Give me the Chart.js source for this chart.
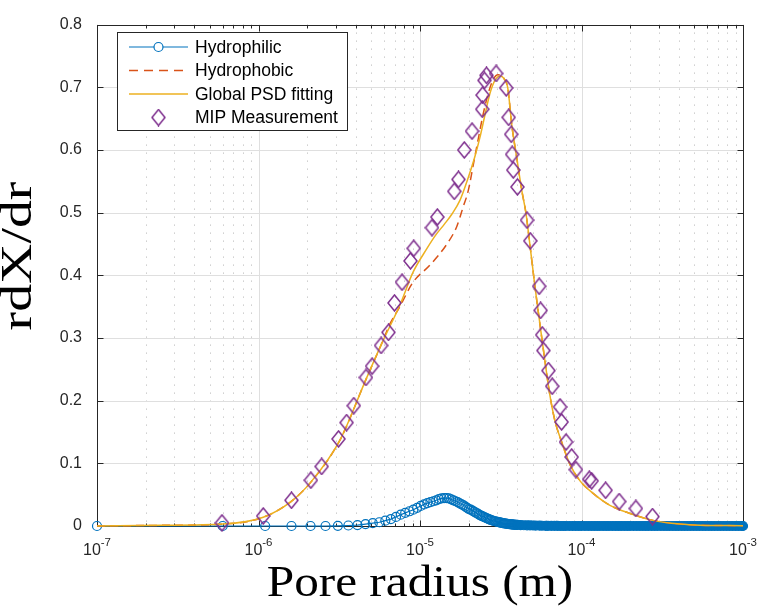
<!DOCTYPE html>
<html>
<head>
<meta charset="utf-8">
<title>Pore size distribution</title>
<script src="https://cdn.jsdelivr.net/npm/chart.js@4.4.0/dist/chart.umd.min.js"></script>
<style>
  html, body { margin: 0; padding: 0; background: #fff; }
  #wrap { width: 763px; height: 611px; }
</style>
</head>
<body>
<div id="wrap"><canvas id="psdChart" width="763" height="611"></canvas></div>
<script>
// Pore radius values are in micrometres (converted to m when the datasets are built)

// Hydrophilic (blue circles)
const hydrophilicR = [0.1, 0.6, 1.1, 1.6, 2.1, 2.6, 3.1, 3.6, 4.1, 4.6, 5.1, 5.6, 6.1, 6.6, 7.1, 7.6, 8.1, 8.6, 9.1, 9.6,
    10.1, 10.6, 11.1, 11.6, 12.1, 12.6, 13.1, 13.6, 14.1, 14.6, 15.1, 15.6, 16.1, 16.6, 17.1, 17.6, 18.1, 18.6, 19.1, 19.6,
    20.1, 20.6, 21.1, 21.6, 22.1, 22.6, 23.1, 23.6, 24.1, 24.6, 25.1, 25.6, 26.1, 26.6, 27.1, 27.6, 28.1, 28.6, 29.1, 29.6,
    30.1, 30.6, 31.1, 31.6, 32.1, 32.6, 33.1, 33.6, 34.1, 34.6, 35.1, 35.6, 36.1, 36.6, 37.1, 37.6, 38.1, 38.6, 39.1, 39.6, 40.1];
const hydrophilicY = [0, 0, 0, 0, 0, 0, 0.0003, 0.0008, 0.0015, 0.003, 0.0045, 0.006, 0.0085, 0.011, 0.0145, 0.018, 0.021, 0.0235, 0.026, 0.029,
    0.032, 0.0345, 0.0365, 0.038, 0.0395, 0.041, 0.043, 0.044, 0.0445, 0.0445, 0.044, 0.0425, 0.041, 0.0395, 0.038, 0.036, 0.0345, 0.033, 0.031, 0.029,
    0.027, 0.026, 0.0245, 0.023, 0.0215, 0.020, 0.0185, 0.017, 0.016, 0.015, 0.014, 0.013, 0.012, 0.011, 0.0102, 0.0095, 0.0088, 0.008, 0.0076, 0.0072,
    0.0067, 0.0062, 0.0058, 0.0054, 0.005, 0.0046, 0.0043, 0.004, 0.0037, 0.0035, 0.0032, 0.003, 0.0028, 0.0027, 0.0025, 0.0023, 0.0021, 0.002, 0.0019, 0.0018, 0.0017];
// dense tail of the hydrophilic curve
const hydrophilicTailR = [42, 44, 46, 48, 50, 52, 55, 57, 60, 62, 65, 68, 71, 74, 77, 80, 84, 88, 92, 96,
    100, 105, 110, 115, 120, 125, 130, 136, 142, 148, 155, 162, 169, 176, 184, 192, 200, 210, 220, 230,
    240, 250, 260, 272, 284, 296, 310, 324, 338, 352, 368, 384, 400, 418, 436, 455, 475, 496, 518, 540,
    564, 588, 614, 640, 668, 698, 728, 760, 794, 828, 864, 902, 940, 980, 1000];
const hydrophilicTailY = [0.0015, 0.0012, 0.001, 0.0009, 0.0008, 0.0007, 0.0005, 0.0004, 0.0003, 0.0003, 0.0002, 0.0002, 0.0001, 0, 0, 0, 0, 0, 0, 0,
    0, 0, 0, 0, 0, 0, 0, 0, 0, 0, 0, 0, 0, 0, 0, 0, 0, 0, 0, 0,
    0, 0, 0, 0, 0, 0, 0, 0, 0, 0, 0, 0, 0, 0, 0, 0, 0, 0, 0, 0,
    0, 0, 0, 0, 0, 0, 0, 0, 0, 0, 0, 0, 0, 0, 0];

// Hydrophobic (dashed)
const hydrophobicR = [0.1, 0.25, 0.6, 1.07, 1.59, 2.11, 3.2, 4.63, 5.79, 6.5, 7.5, 9.06, 11.5, 14.6, 16.9, 18.5, 19.9, 21.4, 23.0, 24.7,
    26.5, 28.4, 30.4, 33.1, 35.0, 37.0, 39.7, 42.7, 45.3, 47.5, 51.5, 56.7, 63.8, 68.6, 75.4, 84.9, 97.9, 118, 150, 200, 277, 407, 542, 1000];
const hydrophobicY = [0, 0.001, 0.003, 0.014, 0.039, 0.070, 0.1375, 0.234, 0.291, 0.322, 0.350, 0.389, 0.416, 0.449, 0.478, 0.509, 0.535, 0.577, 0.619, 0.659,
    0.691, 0.7125, 0.720, 0.714, 0.698, 0.640, 0.588, 0.535, 0.499, 0.457, 0.382, 0.301, 0.208, 0.167, 0.134, 0.098, 0.072, 0.052, 0.033, 0.020, 0.009, 0.003, 0.0012, 0.0005];

// Global PSD fitting (solid yellow)
const fitR = [0.1, 0.25, 0.6, 1.07, 1.59, 2.11, 3.2, 4.63, 5.79, 7.52, 9.06, 11.0, 12.5, 14.2, 15.7, 17.7, 19.6, 21.9, 23.5, 25.3,
    27.1, 29.1, 31.3, 33.1, 35.0, 37.0, 39.7, 42.7, 45.3, 47.5, 51.5, 56.7, 63.8, 68.6, 75.4, 84.9, 97.9, 118, 150, 200, 277, 407, 542, 1000];
const fitY = [0, 0.001, 0.003, 0.014, 0.039, 0.070, 0.1375, 0.234, 0.291, 0.353, 0.405, 0.442, 0.464, 0.482, 0.497, 0.520, 0.551, 0.590, 0.620, 0.657,
    0.690, 0.711, 0.718, 0.714, 0.698, 0.640, 0.588, 0.535, 0.499, 0.457, 0.382, 0.301, 0.208, 0.167, 0.134, 0.098, 0.072, 0.052, 0.033, 0.020, 0.009, 0.003, 0.0012, 0.0005];

// MIP measurement (purple diamonds)
const mipR = [0.594, 1.07, 1.60, 2.11, 2.46, 3.13, 3.51, 3.89, 4.63, 5.05, 5.74, 6.38, 6.95, 7.74, 8.73, 9.14, 11.86, 12.8, 16.3, 17.3,
    18.8, 21.0, 24.3, 24.4, 25.1, 25.8, 29.6, 34.2, 35.4, 36.7, 37.2, 37.8, 40.1, 46.0, 48.2, 54.7, 55.8, 57.1, 58.1, 62.4,
    65.9, 73.6, 75.3, 80.2, 86.9, 92.3, 111.7, 115.6, 141, 171, 217, 275];
const mipY = [0.005, 0.016, 0.041, 0.073, 0.095, 0.139, 0.165, 0.192, 0.237, 0.255, 0.288, 0.309, 0.356, 0.389, 0.423, 0.443, 0.476, 0.493, 0.534, 0.553,
    0.600, 0.630, 0.665, 0.6875, 0.711, 0.719, 0.722, 0.699, 0.652, 0.625, 0.593, 0.568, 0.541, 0.488, 0.455, 0.3825, 0.344, 0.305, 0.280, 0.248,
    0.223, 0.190, 0.166, 0.134, 0.110, 0.090, 0.0745, 0.072, 0.057, 0.039, 0.028, 0.015];

const seriesNames = ["Hydrophilic", "Hydrophobic", "Global PSD fitting", "MIP Measurement"];
const yTicks = [0, 0.1, 0.2, 0.3, 0.4, 0.5, 0.6, 0.7, 0.8];
const xDecades = [-7, -6, -5, -4, -3];
const minorSteps = [2, 3, 4, 5, 6, 7, 8, 9];

const BLUE = "#0072BD", ORANGE = "#D95319", YELLOW = "#EDB120", PURPLE = "#7E2F8E";
const AXIS = "#262626";

function toPoints(r, v) {
    return r.map((ri, i) => ({ x: ri * 1e-6, y: v[i] }));
}

// diamond marker, a bit taller than wide like the original
function makeDiamond() {
    const c = document.createElement("canvas");
    c.width = 15; c.height = 18;
    const g = c.getContext("2d");
    g.strokeStyle = PURPLE;
    g.lineWidth = 1.5;
    g.beginPath();
    g.moveTo(7.5, 1); g.lineTo(14, 9); g.lineTo(7.5, 17); g.lineTo(1, 9);
    g.closePath();
    g.stroke();
    return c;
}
const diamond = makeDiamond();

// serif label, widened a little to match the LaTeX font
function wideText(ctx, text, x, y, sx) {
    ctx.save();
    ctx.translate(x, y);
    ctx.scale(sx, 1);
    ctx.fillText(text, 0, 0);
    ctx.restore();
}

// grid, box, ticks (drawn under the data)
const axesPlugin = {
    id: "matlabAxes",
    beforeDatasetsDraw(chart) {
        const { ctx, chartArea: a, scales: { x, y } } = chart;
        ctx.save();
        ctx.lineWidth = 1;

        // minor dotted grid
        ctx.strokeStyle = "#b4b4b4";
        ctx.setLineDash([1, 7]);
        xDecades.slice(0, -1).forEach((d) => {
            minorSteps.forEach((m) => {
                const px = Math.round(x.getPixelForValue(m * Math.pow(10, d))) + 0.5;
                ctx.beginPath(); ctx.moveTo(px, a.top); ctx.lineTo(px, a.bottom); ctx.stroke();
            });
        });
        ctx.setLineDash([]);

        // major grid
        ctx.strokeStyle = "#dfdfdf";
        xDecades.forEach((d) => {
            const px = Math.round(x.getPixelForValue(Math.pow(10, d))) + 0.5;
            ctx.beginPath(); ctx.moveTo(px, a.top); ctx.lineTo(px, a.bottom); ctx.stroke();
        });
        yTicks.forEach((v) => {
            const py = Math.round(y.getPixelForValue(v)) + 0.5;
            ctx.beginPath(); ctx.moveTo(a.left, py); ctx.lineTo(a.right, py); ctx.stroke();
        });

        // box
        ctx.strokeStyle = AXIS;
        const l = Math.round(a.left) + 0.5, r = Math.round(a.right) + 0.5;
        const t = Math.round(a.top) + 0.5, b = Math.round(a.bottom) + 0.5;
        ctx.strokeRect(l, t, r - l, b - t);

        // tick marks, pointing inwards
        ctx.beginPath();
        yTicks.forEach((v) => {
            const py = Math.round(y.getPixelForValue(v)) + 0.5;
            ctx.moveTo(l, py); ctx.lineTo(l + 6, py);
            ctx.moveTo(r, py); ctx.lineTo(r - 6, py);
        });
        xDecades.forEach((d) => {
            const px = Math.round(x.getPixelForValue(Math.pow(10, d))) + 0.5;
            ctx.moveTo(px, b); ctx.lineTo(px, b - 6);
            ctx.moveTo(px, t); ctx.lineTo(px, t + 6);
        });
        xDecades.slice(0, -1).forEach((d) => {
            minorSteps.forEach((m) => {
                const px = Math.round(x.getPixelForValue(m * Math.pow(10, d))) + 0.5;
                ctx.moveTo(px, b); ctx.lineTo(px, b - 3);
                ctx.moveTo(px, t); ctx.lineTo(px, t + 3);
            });
        });
        ctx.stroke();
        ctx.restore();
    },
    afterDraw(chart) {
        const { ctx, chartArea: a, scales: { x } } = chart;
        ctx.save();
        ctx.fillStyle = AXIS;

        // x tick labels 10^n
        ctx.textBaseline = "alphabetic";
        ctx.textAlign = "left";
        xDecades.forEach((d) => {
            const px = x.getPixelForValue(Math.pow(10, d));
            ctx.font = '16px "Liberation Sans"';
            const w1 = ctx.measureText("10").width;
            ctx.font = '11.5px "Liberation Sans"';
            const exp = "-" + Math.abs(d);
            const w2 = ctx.measureText(exp).width;
            const start = px - (w1 + w2) / 2;
            ctx.font = '16px "Liberation Sans"';
            ctx.fillText("10", start, 555);
            ctx.font = '11.5px "Liberation Sans"';
            ctx.fillText(exp, start + w1, 546);
        });

        // axis titles
        ctx.fillStyle = "#000";
        ctx.textAlign = "center";
        ctx.font = '44px "Liberation Serif"';
        wideText(ctx, "Pore radius (m)", (a.left + a.right) / 2, 596, 1.12);
        ctx.save();
        ctx.translate(31, 256);
        ctx.rotate(-Math.PI / 2);
        ctx.font = '45px "Liberation Serif"';
        wideText(ctx, "rdX/dr", 0, 0, 1.24);
        ctx.restore();

        // legend box
        const box = { x: 117.5, y: 32.5, w: 230, h: 98 };
        ctx.fillStyle = "#fff";
        ctx.fillRect(box.x, box.y, box.w, box.h);
        ctx.strokeStyle = AXIS;
        ctx.lineWidth = 1;
        ctx.strokeRect(box.x, box.y, box.w, box.h);

        const rows = [47, 70.5, 94, 117.5];
        const x0 = 129, x1 = 188, xm = 158.5;
        // hydrophilic: line + circle
        ctx.strokeStyle = BLUE; ctx.lineWidth = 1.2;
        ctx.beginPath(); ctx.moveTo(x0, rows[0]); ctx.lineTo(x1, rows[0]); ctx.stroke();
        ctx.fillStyle = "#fff";
        ctx.lineWidth = 1.2;
        ctx.beginPath(); ctx.arc(xm, rows[0], 4.5, 0, Math.PI * 2); ctx.fill(); ctx.stroke();
        // hydrophobic: dashed
        ctx.strokeStyle = ORANGE; ctx.lineWidth = 1.5; ctx.setLineDash([9, 6]);
        ctx.beginPath(); ctx.moveTo(x0, rows[1]); ctx.lineTo(x1, rows[1]); ctx.stroke();
        ctx.setLineDash([]);
        // global fit
        ctx.strokeStyle = YELLOW;
        ctx.beginPath(); ctx.moveTo(x0, rows[2]); ctx.lineTo(x1, rows[2]); ctx.stroke();
        // MIP diamond
        ctx.drawImage(diamond, xm - diamond.width / 2, rows[3] - diamond.height / 2);

        ctx.fillStyle = "#000";
        ctx.textAlign = "left";
        ctx.textBaseline = "middle";
        ctx.font = '17.5px "Liberation Sans"';
        seriesNames.forEach((name, i) => ctx.fillText(name, 195, rows[i] + 1));
        ctx.restore();
    }
};

const ctx = document.getElementById("psdChart").getContext("2d");
const chartInstance = new Chart(ctx, {
    type: "line",
    data: {
        datasets: [
            {
                label: seriesNames[0],
                data: toPoints(hydrophilicR.concat(hydrophilicTailR), hydrophilicY.concat(hydrophilicTailY)),
                borderColor: BLUE,
                borderWidth: 1.2,
                pointRadius: 4.5,
                pointBorderWidth: 1.2,
                pointBorderColor: BLUE,
                pointBackgroundColor: (c) => (c.raw && c.raw.x >= 4e-5 ? BLUE : "rgba(255,255,255,0)"),
                clip: false,
                order: 4,
            },
            {
                label: seriesNames[1],
                data: toPoints(hydrophobicR, hydrophobicY),
                borderColor: ORANGE,
                borderWidth: 1.5,
                borderDash: [8, 5],
                pointRadius: 0,
                cubicInterpolationMode: "monotone",
                clip: false,
                order: 3,
            },
            {
                label: seriesNames[2],
                data: toPoints(fitR, fitY),
                borderColor: YELLOW,
                borderWidth: 1.5,
                pointRadius: 0,
                cubicInterpolationMode: "monotone",
                clip: false,
                order: 2,
            },
            {
                label: seriesNames[3],
                data: toPoints(mipR, mipY),
                showLine: false,
                pointStyle: diamond,
                pointRadius: 7,
                clip: false,
                order: 1,
            },
        ],
    },
    options: {
        responsive: false,
        animation: false,
        devicePixelRatio: 1,
        layout: { padding: { top: 15, right: 20, left: 0, bottom: 0 } },
        plugins: { legend: { display: false }, tooltip: { enabled: false } },
        scales: {
            x: {
                type: "logarithmic",
                min: 1e-7,
                max: 1e-3,
                grid: { display: false, drawTicks: false },
                border: { display: false },
                ticks: { display: false },
                afterFit: (s) => { s.height = 85; },
            },
            y: {
                min: 0,
                max: 0.8,
                grid: { display: false, drawTicks: false },
                border: { display: false },
                ticks: {
                    color: AXIS,
                    padding: 15,
                    font: { family: "Liberation Sans", size: 16 },
                },
                afterBuildTicks: (s) => { s.ticks = yTicks.map((v) => ({ value: v })); },
                afterFit: (s) => { s.width = 97; },
            },
        },
    },
    plugins: [axesPlugin],
});
</script>
</body>
</html>
